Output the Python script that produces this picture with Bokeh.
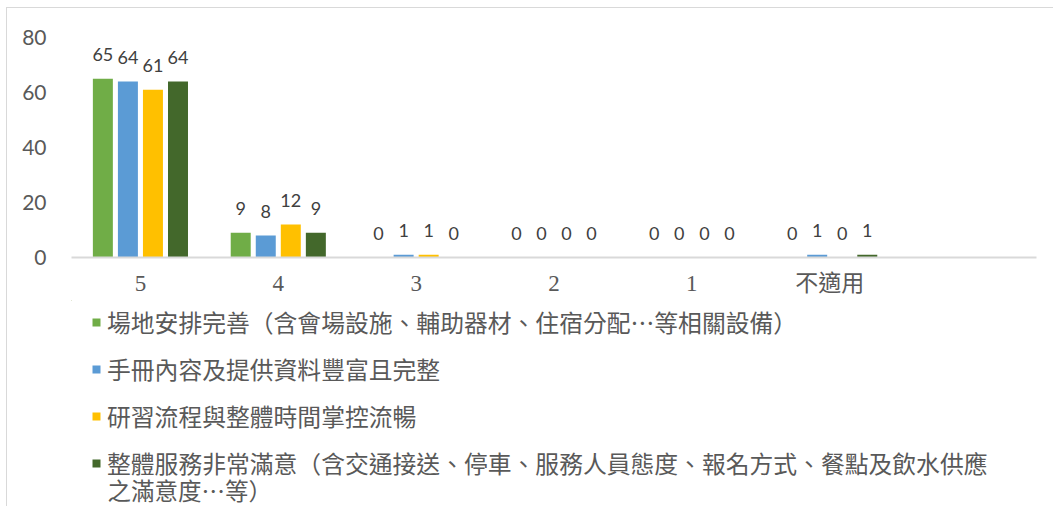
from bokeh.plotting import figure
from bokeh.models import FactorRange, Range1d, Legend, LegendItem, ColumnDataSource, Label
from bokeh.layouts import column
from bokeh.transform import dodge
from bokeh.core.properties import value
from bokeh.embed import file_html
from bokeh.resources import INLINE

categories = ["5", "4", "3", "2", "1", "不適用"]
series_names = [
    "場地安排完善（含會場設施、輔助器材、住宿分配…等相關設備）",
    "手冊內容及提供資料豐富且完整",
    "研習流程與整體時間掌控流暢",
    "整體服務非常滿意（含交通接送、停車、服務人員態度、報名方式、餐點及飲水供應",
]
series_name_wrap = "之滿意度…等）"
venue = [65, 9, 0, 0, 0, 0]
handbook = [64, 8, 1, 0, 0, 1]
process = [61, 12, 1, 0, 0, 0]
service = [64, 9, 0, 0, 0, 1]
y_ticks = [0, 20, 40, 60, 80]

colors = ["#70AD47", "#5B9BD5", "#FFC000", "#43682B"]
series = [venue, handbook, process, service]
offsets = [-0.2725, -0.0908, 0.0908, 0.2725]

src = ColumnDataSource(dict(cat=categories,
                            s0=venue, s1=handbook, s2=process, s3=service,
                            l0=[str(v) for v in venue], l1=[str(v) for v in handbook],
                            l2=[str(v) for v in process], l3=[str(v) for v in service]))

W = 1053
H1 = 300
H2 = 206

p = figure(x_range=FactorRange(factors=categories + [" "], range_padding=0),
           y_range=Range1d(0, 80),
           width=W, height=H1, output_backend="svg", toolbar_location=None,
           min_border_left=71, min_border_right=17, min_border_top=37, min_border_bottom=H1 - 257)

p.outline_line_color = None
p.background_fill_color = None
p.border_fill_color = None
p.xgrid.grid_line_color = None
p.ygrid.grid_line_color = None

for i in range(4):
    p.vbar(x=dodge("cat", offsets[i], range=p.x_range), top=f"s{i}", width=0.145,
           source=src, fill_color=colors[i], line_color=None)
    p.text(x=dodge("cat", offsets[i], range=p.x_range), y=f"s{i}", text=f"l{i}", source=src,
           text_font=value("Lato"), text_font_size="18px", text_color="#404040",
           text_align="center", text_baseline="alphabetic", y_offset=-24)

p.yaxis.ticker = y_ticks
p.yaxis.axis_line_color = None
p.yaxis.major_tick_line_color = None
p.yaxis.minor_tick_line_color = None
p.yaxis.major_label_standoff = 19
p.yaxis.major_label_text_font = "Lato"
p.yaxis.major_label_text_font_size = "21px"
p.yaxis.major_label_text_color = "#595959"

p.xaxis.axis_line_color = "#D9D9D9"
p.xaxis.axis_line_width = 2
p.xaxis.major_tick_line_color = None
p.xaxis.minor_tick_line_color = None
p.xaxis.major_label_standoff = 7
p.xaxis.major_label_text_font = "'Liberation Serif', 'Noto Sans CJK TC'"
p.xaxis.major_label_text_font_size = "23px"
p.xaxis.major_label_text_color = "#595959"

# legend panel (frame is aligned with the chart frame by the column layout;
# ranges chosen so that data units equal page pixels)
q = figure(x_range=Range1d(71, 1036), y_range=Range1d(H1 + H2, H1), width=W, height=H2,
           output_backend="svg", toolbar_location=None,
           min_border=0, min_border_left=0, min_border_right=0, min_border_top=0, min_border_bottom=0)
q.axis.visible = False
q.xgrid.visible = False
q.ygrid.visible = False
q.outline_line_color = None
q.background_fill_color = None
q.border_fill_color = None

items = []
for i in range(4):
    r = q.vbar(x=[0], top=[0], width=0, fill_color=colors[i], line_color=None)
    items.append(LegendItem(label=series_names[i], renderers=[r]))

legend = Legend(items=items, location=(20, 26), orientation="vertical",
                padding=0, margin=0, border_line_color=None, background_fill_alpha=0,
                glyph_width=10, glyph_height=10, label_standoff=6,
                label_text_font="Noto Sans CJK TC", label_text_font_size="23.8px",
                label_text_color="#595959", label_height=26, spacing=12)
q.add_layout(legend, "center")

q.add_layout(Label(x=107, y=489, text=series_name_wrap, text_font="Noto Sans CJK TC",
                   text_font_size="23.5px", text_color="#595959",
                   text_baseline="middle", text_align="left"))

layout = column(p, q, spacing=0)
layout.styles = {
    "background": "linear-gradient(#D9D9D9, #D9D9D9) 6px 7px / 1px calc(100% - 7px) no-repeat, "
                  "linear-gradient(#D9D9D9, #D9D9D9) 6px 7px / calc(100% - 6px) 1px no-repeat, white"
}
open("out.html", "w").write(file_html(layout, INLINE))
